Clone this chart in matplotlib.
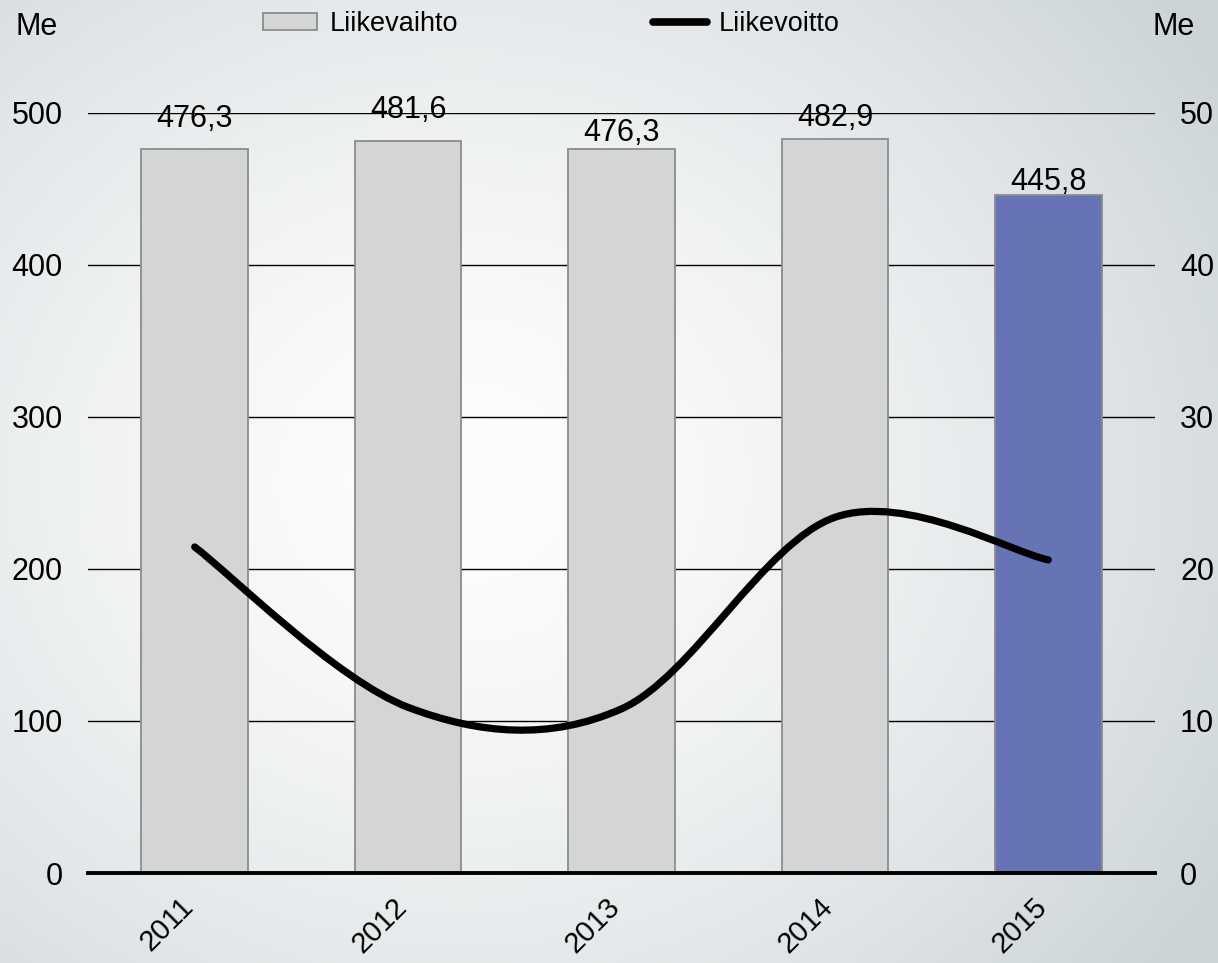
import numpy as np
import matplotlib
matplotlib.use("Agg")
import matplotlib.pyplot as plt
from matplotlib.path import Path
from matplotlib.patches import PathPatch, Patch
from matplotlib.lines import Line2D

plt.rcParams['font.family'] = ['Liberation Sans', 'DejaVu Sans']

# ----------- Data -----------
years = ["2011", "2012", "2013", "2014", "2015"]
liikevaihto = [476.3, 481.6, 476.3, 482.9, 445.8]
liikevoitto = [21.45, 10.9, 10.8, 23.4, 20.6]
value_labels = ["476,3", "481,6", "476,3", "482,9", "445,8"]
label_gap_pt = [16, 16.5, 6, 9.5, 3.6]

bar_colors = ["#d4d5d7", "#d4d5d7", "#d4d5d7", "#d4d5d7", "#6673b5"]
FS = 22

fig = plt.figure(figsize=(12.18, 9.63), dpi=100)

# ----------- background gradient -----------
bg = fig.add_axes([0, 0, 1, 1], zorder=-10)
yy, xx = np.mgrid[0:1:300j, 0:1:380j]
d = np.sqrt(((xx - 0.38) / 1.0) ** 2 + ((yy - 0.5) / 1.1) ** 2)
t = np.clip(d / 0.75, 0, 1) ** 1.5
c0 = np.array([253, 253, 253]) / 255
c1 = np.array([203, 211, 214]) / 255
img = c0[None, None, :] * (1 - t[..., None]) + c1[None, None, :] * t[..., None]
bg.imshow(img, aspect='auto', extent=[0, 1, 0, 1], origin='upper')
bg.axis('off')

# ----------- main axes -----------
ax = fig.add_axes([88 / 1218, 90 / 963, 1067 / 1218, 760 / 963])
ax.patch.set_alpha(0)
x = np.arange(len(years))

ax.bar(x, liikevaihto, width=0.5, color=bar_colors, edgecolor="#8c8c8c",
       linewidth=1.3, zorder=2)
ax.set_xlim(-0.5, len(years) - 0.5)
ax.set_ylim(0, 500)
ax.set_yticks(range(0, 501, 100))
ax.yaxis.grid(True, color="black", linewidth=1.0, zorder=0)
ax.set_axisbelow(True)
ax.axhline(0, color="black", linewidth=2.8, zorder=3, clip_on=False)
for s in ax.spines.values():
    s.set_visible(False)
ax.tick_params(axis='y', length=0, pad=18, labelsize=FS)
ax.set_xticks(x)
ax.set_xticklabels(years, rotation=45, ha='right', fontsize=21)
ax.tick_params(axis='x', length=0, pad=14)
for lbl in ax.get_xticklabels():
    lbl.set_transform(lbl.get_transform() +
                      matplotlib.transforms.ScaledTranslation(4 / 100, 0, fig.dpi_scale_trans))

for xi, v, s, g in zip(x, liikevaihto, value_labels, label_gap_pt):
    ax.annotate(s, (xi, v), xytext=(0, g), textcoords='offset points',
                ha='center', va='baseline', fontsize=FS, zorder=5,
                annotation_clip=False)

# ----------- secondary axis with smoothed line -----------
ax2 = ax.twinx()
ax2.set_ylim(0, 50)
ax2.set_yticks(range(0, 51, 10))
ax2.tick_params(axis='y', length=0, pad=18, labelsize=FS)
for s in ax2.spines.values():
    s.set_visible(False)

# Catmull-Rom style bezier smoothing (like Excel smoothed line)
pts = np.column_stack([x, liikevoitto]).astype(float)
verts = [tuple(pts[0])]
codes = [Path.MOVETO]
n = len(pts)
for i in range(n - 1):
    p0 = pts[max(i - 1, 0)]
    p1 = pts[i]
    p2 = pts[i + 1]
    p3 = pts[min(i + 2, n - 1)]
    c1 = p1 + (p2 - p0) / 6
    c2 = p2 - (p3 - p1) / 6
    verts += [tuple(c1), tuple(c2), tuple(p2)]
    codes += [Path.CURVE4] * 3
ax2.add_patch(PathPatch(Path(verts, codes), facecolor='none', edgecolor='black',
                        linewidth=5.2, capstyle='round', zorder=4))

# ----------- unit labels & legend -----------
fig.text(16 / 1218, 1 - 27 / 963, "Me", fontsize=FS, ha='left', va='center')
fig.text(1195 / 1218, 1 - 27 / 963, "Me", fontsize=FS, ha='right', va='center')

handles = [Patch(facecolor="#d4d5d7", edgecolor="#8c8c8c", linewidth=1.3),
           Line2D([], [], color='black', linewidth=5.5, solid_capstyle='round')]
fig.legend(handles, ["Liikevaihto", "Liikevoitto"], loc='center left',
           bbox_to_anchor=(263 / 1218, 1 - 24 / 963), ncol=2, frameon=False,
           fontsize=19.5, handlelength=2.0, handleheight=0.55, handletextpad=0.45,
           columnspacing=7.2, borderaxespad=0, borderpad=0)

fig.savefig("out.png", dpi=100)
